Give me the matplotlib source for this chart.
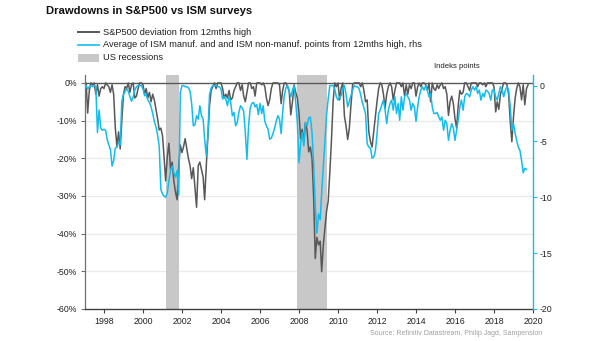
import matplotlib
matplotlib.use("Agg")
import matplotlib.pyplot as plt
import matplotlib.dates as mdates
import pandas as pd
from matplotlib.lines import Line2D
from matplotlib.patches import Rectangle

plt.rcParams["font.family"] = ["Liberation Sans", "DejaVu Sans"]
plt.rcParams["axes.unicode_minus"] = False

# S&P500 deviation from 12-month high (%), monthly from Jan 1997
spx_1997 = [-1.0, 0.0, -8.0, -2.0, 0.0, -0.5, 0.0, -3.0, -0.5, -3.5, -1.5, -1.0]
spx_1998 = [-1.5, 0.0, -0.5, -1.0, -2.5, -0.5, -3.0, -12.0, -17.0, -13.0, -17.5, -10.0]
spx_1999 = [-3.0, -1.0, -1.5, 0.0, -2.5, -0.5, 0.0, -4.0, -3.5, -1.5, 0.0, 0.0]
spx_2000 = [-0.5, -3.0, -1.5, -4.0, -2.5, -5.0, -3.0, -4.5, -7.0, -9.5, -12.5, -12.0]
spx_2001 = [-14.0, -20.0, -26.0, -19.5, -16.0, -23.0, -21.0, -26.0, -29.0, -31.0, -22.0, -16.5]
spx_2002 = [-18.5, -16.8, -14.8, -17.5, -20.0, -22.0, -25.4, -22.5, -28.0, -33.0, -22.0, -21.0]
spx_2003 = [-23.0, -25.0, -31.0, -22.0, -14.0, -6.0, -2.0, -1.0, 0.0, -1.5, 0.0, 0.0]
spx_2004 = [0.0, -1.5, -4.0, -3.0, -4.0, -2.0, -4.5, -4.0, -2.0, -1.0, 0.0, 0.0]
spx_2005 = [-2.0, -0.5, -3.5, -5.0, -2.5, 0.0, 0.0, -1.5, -1.0, -3.5, 0.0, 0.0]
spx_2006 = [0.0, -0.5, 0.0, -1.0, -4.0, -6.0, -4.5, -1.5, 0.0, 0.0, 0.0, 0.0]
spx_2007 = [-0.5, -5.5, -2.0, 0.0, 0.0, -1.0, -2.0, -8.5, -5.0, -0.5, -2.5, -4.0]
spx_2008 = [-8.0, -14.8, -12.3, -15.7, -10.5, -12.7, -18.3, -17.0, -20.0, -30.0, -46.6, -41.0]
spx_2009 = [-43.0, -42.0, -50.1, -43.0, -38.6, -34.0, -31.4, -23.6, -15.0, -5.0, 0.0, -1.0]
spx_2010 = [0.0, -4.5, -1.3, 0.0, -8.8, -11.5, -15.0, -12.0, -5.8, -0.5, 0.0, 0.0]
spx_2011 = [0.0, 0.0, -1.0, 0.0, -2.0, -5.0, -4.5, -13.0, -15.6, -17.0, -13.0, -9.0]
spx_2012 = [-5.0, -1.5, 0.0, -0.5, -3.0, -6.7, -3.0, -1.0, 0.0, -1.0, -4.5, -2.0]
spx_2013 = [0.0, 0.0, 0.0, -1.0, 0.0, -3.5, -0.5, -3.0, -0.5, -1.5, 0.0, 0.0]
spx_2014 = [-3.5, -1.0, 0.0, -1.0, 0.0, 0.0, -0.5, -2.0, 0.0, -5.0, 0.0, -1.5]
spx_2015 = [-2.0, -0.5, -1.5, -0.5, 0.0, -1.5, -1.0, -3.0, -8.6, -5.0, -3.5, -5.5]
spx_2016 = [-9.5, -12.0, -6.0, -2.0, -3.0, -2.5, 0.0, 0.0, -1.0, -2.0, 0.0, 0.0]
spx_2017 = [0.0, 0.0, -1.0, 0.0, 0.0, -0.5, 0.0, -1.0, 0.0, 0.0, 0.0, 0.0]
spx_2018 = [-1.0, -7.7, -5.0, -7.0, -3.0, -1.5, 0.0, 0.0, -0.5, -3.0, -10.3, -15.6]
spx_2019 = [-9.0, -4.0, -1.5, 0.0, -1.0, -4.5, -0.5, -5.8, -1.5, -0.5]

# Average of ISM manufacturing and non-manufacturing, points from 12-month high
ism_1997 = [-0.2, 0.0, -0.3, -0.1, 0.0, -0.1, 0.0, -0.1, -4.2, -2.2, -3.8, -4.0]
ism_1998 = [-3.9, -4.0, -4.8, -5.3, -5.7, -7.2, -6.7, -5.6, -5.5, -5.1, -5.3, -1.4]
ism_1999 = [-0.8, -0.5, -0.3, -0.5, -1.0, -1.4, -1.0, -0.4, -0.1, 0.0, 0.0, 0.0]
ism_2000 = [-0.3, -0.9, -0.8, -1.3, -1.5, -1.9, -2.5, -3.2, -3.7, -4.4, -5.5, -9.3]
ism_2001 = [-9.7, -9.9, -10.0, -9.6, -8.5, -7.6, -7.2, -7.8, -8.2, -7.6, -9.8, -0.6]
ism_2002 = [0.0, 0.0, -0.1, -0.1, -0.2, -0.5, -1.6, -3.6, -3.5, -2.7, -3.0, -1.8]
ism_2003 = [-2.7, -3.0, -4.8, -6.3, -4.4, -0.8, -0.2, 0.0, 0.0, 0.0, -0.1, -0.1]
ism_2004 = [-0.3, -1.2, -1.0, -1.2, -1.8, -1.0, -1.5, -2.7, -2.4, -3.6, -3.3, -2.4]
ism_2005 = [-1.8, -2.0, -2.3, -4.2, -6.6, -3.6, -2.0, -1.6, -1.5, -1.9, -1.7, -2.6]
ism_2006 = [-1.6, -2.5, -1.8, -3.2, -3.6, -3.9, -4.8, -4.7, -4.3, -3.8, -3.2, -2.7]
ism_2007 = [-3.0, -4.3, -2.4, -0.9, -0.2, 0.0, -0.5, -1.0, -0.4, 0.0, -1.5, -3.3]
ism_2008 = [-6.9, -5.2, -4.2, -5.4, -3.3, -3.6, -2.9, -2.8, -4.2, -6.9, -10.8, -13.2]
ism_2009 = [-11.5, -12.0, -9.6, -7.2, -4.8, -2.6, -1.2, 0.0, 0.0, 0.0, -0.3, -1.0]
ism_2010 = [-1.3, -1.0, -0.9, -0.3, 0.0, -0.8, -1.9, -1.4, -0.9, -0.4, 0.0, -0.1]
ism_2011 = [-0.1, -0.3, -0.8, -1.5, -2.0, -2.5, -5.2, -5.5, -5.6, -6.5, -6.4, -5.9]
ism_2012 = [-4.4, -2.5, -2.2, -1.7, -1.3, -2.2, -3.4, -2.2, -1.6, -1.3, -2.2, -1.0]
ism_2013 = [-2.5, -1.6, -3.1, -1.0, -2.2, -1.0, -0.7, -1.0, -1.3, -2.2, -1.6, -1.9]
ism_2014 = [-3.2, -1.9, -1.0, -0.4, -0.1, -0.4, 0.0, -0.4, -1.0, -0.7, -1.9, -2.5]
ism_2015 = [-2.5, -2.4, -2.8, -3.1, -2.8, -4.0, -3.1, -3.4, -4.9, -4.0, -3.4, -3.8]
ism_2016 = [-4.9, -4.0, -3.1, -1.9, -1.3, -2.2, -1.0, -0.7, -0.8, -1.0, -0.4, -0.1]
ism_2017 = [-0.4, -0.1, -0.7, -0.4, -1.3, -0.7, -1.0, -0.4, -0.5, -0.7, -1.3, -0.4]
ism_2018 = [-0.4, -1.0, -1.3, -0.7, -0.1, -0.4, -1.0, -0.4, -0.1, -0.4, -1.9, -4.0]
ism_2019 = [-3.4, -4.3, -4.9, -5.5, -5.8, -6.7, -7.8, -7.4, -7.5]

# US recessions (start month, end month)
recession_start = ["2001-03-01", "2007-12-01"]
recession_end = ["2001-11-01", "2009-06-01"]

left_ticks = [0, -10, -20, -30, -40, -50, -60]
right_ticks = [0, -5, -10, -15, -20]
year_ticks = list(range(1998, 2021, 2))

spx = (spx_1997 + spx_1998 + spx_1999 + spx_2000 + spx_2001 + spx_2002 + spx_2003
       + spx_2004 + spx_2005 + spx_2006 + spx_2007 + spx_2008 + spx_2009 + spx_2010
       + spx_2011 + spx_2012 + spx_2013 + spx_2014 + spx_2015 + spx_2016 + spx_2017
       + spx_2018 + spx_2019)
ism = (ism_1997 + ism_1998 + ism_1999 + ism_2000 + ism_2001 + ism_2002 + ism_2003
       + ism_2004 + ism_2005 + ism_2006 + ism_2007 + ism_2008 + ism_2009 + ism_2010
       + ism_2011 + ism_2012 + ism_2013 + ism_2014 + ism_2015 + ism_2016 + ism_2017
       + ism_2018 + ism_2019)
spx_dates = pd.date_range("1997-01-01", periods=len(spx), freq="MS")
ism_dates = pd.date_range("1997-01-01", periods=len(ism), freq="MS")

GREY = "#585858"
CYAN = "#12BDEE"
SHADE = "#C8C8C8"
W, H = 605, 341

fig = plt.figure(figsize=(W / 100, H / 100), dpi=100)
ax = fig.add_axes([84.5 / W, 1 - 309 / H, (533 - 84.5) / W, (309 - 75) / H])
ax2 = ax.twinx()

# light horizontal grid first, recession bands drawn over it
for t in left_ticks[1:-1]:
    ax.axhline(t, color="#EBEBEB", lw=1.0, zorder=0.2)
for s, e in zip(recession_start, recession_end):
    ax.axvspan(pd.Timestamp(s), pd.Timestamp(e), color=SHADE, lw=0, zorder=0.5)

ax.set_ylim(-60, 2.1)
ax.set_yticks(left_ticks)
ax.set_yticklabels([f"{t}%" for t in left_ticks])
ax.axhline(0, color=GREY, lw=1.0, zorder=1)
ax.plot(spx_dates, spx, color=GREY, lw=1.1, zorder=2)

ax2.plot(ism_dates, ism, color=CYAN, lw=1.1, zorder=3)
ax2.set_ylim(-20, 0.95)
ax2.set_yticks(right_ticks)
ax2.set_yticklabels([str(t) for t in right_ticks])

ax.set_xlim(pd.Timestamp("1997-01-01"), pd.Timestamp("2020-01-01"))
ax.set_xticks([pd.Timestamp(f"{y}-01-01") for y in year_ticks])
ax.xaxis.set_major_formatter(mdates.DateFormatter("%Y"))

for a in (ax, ax2):
    a.spines["top"].set_visible(False)
ax.spines["right"].set_visible(False)
ax2.spines["left"].set_visible(False)
ax2.spines["bottom"].set_visible(False)
ax.spines["left"].set_color("#707070")
ax.spines["bottom"].set_color("#404040")
ax.spines["left"].set_linewidth(0.9)
ax.spines["bottom"].set_linewidth(1.0)
ax2.spines["right"].set_color(CYAN)
ax2.spines["right"].set_linewidth(1.0)

ax.tick_params(axis="y", length=3, width=0.8, color="#707070", pad=2.5,
               labelsize=6.3, labelcolor="#222222")
ax.tick_params(axis="x", length=3, width=0.8, color="#404040", pad=2.5,
               labelsize=6.3, labelcolor="#222222")
ax2.tick_params(axis="y", length=3, width=0.8, color=CYAN, pad=1.5,
                labelsize=6.3, labelcolor="#222222")

fig.text(45.5 / W, 1 - 11.5 / H, "Drawdowns in S&P500 vs ISM surveys",
         fontsize=8.1, fontweight="bold", ha="left", va="center", color="#111111")

legend_y = [32.3, 44.5, 57.7]
legend_txt = ["S&P500 deviation from 12mths high",
              "Average of ISM manuf. and and ISM non-manuf. points from 12mths high, rhs",
              "US recessions"]
fig.add_artist(Line2D([77.7 / W, 99 / W], [1 - legend_y[0] / H] * 2,
                      color=GREY, lw=1.4, transform=fig.transFigure))
fig.add_artist(Line2D([77.7 / W, 99 / W], [1 - legend_y[1] / H] * 2,
                      color=CYAN, lw=1.2, transform=fig.transFigure))
fig.add_artist(Rectangle((77.7 / W, 1 - 62 / H), 21.3 / W, 8 / H,
                         color=SHADE, lw=0, transform=fig.transFigure))
for y, t in zip(legend_y, legend_txt):
    fig.text(102.7 / W, 1 - y / H, t, fontsize=6.7, ha="left", va="center",
             color="#222222")

fig.text(480 / W, 1 - 66 / H, "Indeks points", fontsize=5.6, ha="right",
         va="center", color="#222222")
fig.text(542 / W, 1 - 333.5 / H,
         "Source: Refinitiv Datastream, Philip Jagd, Sampension",
         fontsize=5.0, ha="right", va="center", color="#A0A0A0")

fig.savefig("out.png", dpi=100)
